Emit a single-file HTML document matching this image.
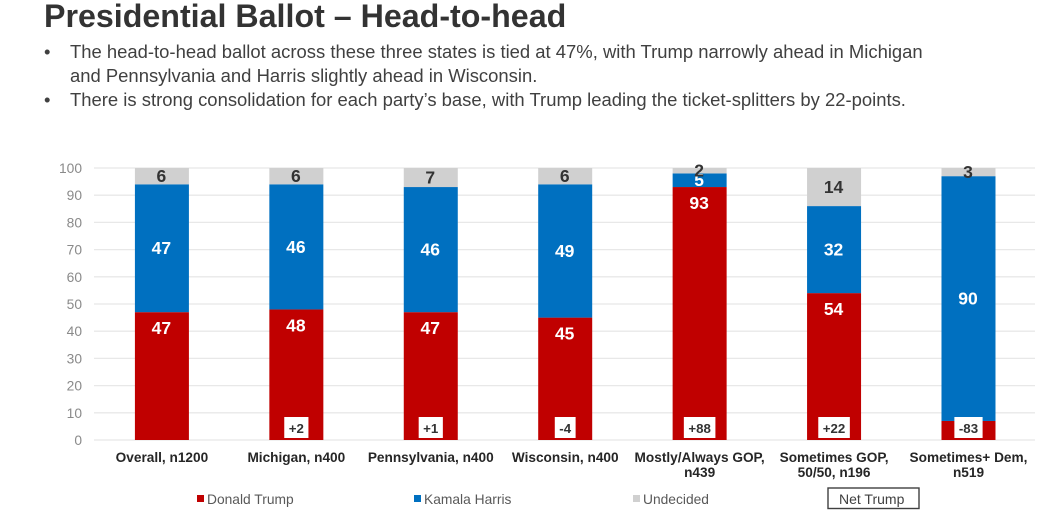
<!DOCTYPE html>
<html>
<head>
<meta charset="utf-8">
<style>
html,body{margin:0;padding:0;background:#fff;}
body{width:1051px;height:520px;overflow:hidden;position:relative;font-family:"Liberation Sans",sans-serif;}
svg{position:absolute;left:0;top:0;filter:blur(0.35px);}
text{font-family:"Liberation Sans",sans-serif;}
</style>
</head>
<body>
<svg id="slide" width="1051" height="520" viewBox="0 0 1051 520" xmlns="http://www.w3.org/2000/svg">
  <text x="44" y="27" font-size="32.2" font-weight="700" fill="#333333">Presidential Ballot – Head-to-head</text>
  <g font-size="18.44" fill="#404040">
    <text x="44" y="58">•</text>
    <text x="70" y="58">The head-to-head ballot across these three states is tied at 47%, with Trump narrowly ahead in Michigan</text>
    <text x="70" y="82">and Pennsylvania and Harris slightly ahead in Wisconsin.</text>
    <text x="44" y="106">•</text>
    <text x="70" y="106">There is strong consolidation for each party’s base, with Trump leading the ticket-splitters by 22-points.</text>
  </g>
  <g id="chart"></g>
  <g font-size="13.8" fill="#595959">
    <g>
      <rect x="197" y="495" width="7" height="7" fill="#c00000"></rect>
      <text x="207" y="504">Donald Trump</text>
    </g>
    <g>
      <rect x="414" y="495" width="7" height="7" fill="#0070c0"></rect>
      <text x="424" y="504">Kamala Harris</text>
    </g>
    <g>
      <rect x="633" y="495" width="7" height="7" fill="#d0d0d0"></rect>
      <text x="643" y="504">Undecided</text>
    </g>
    <g>
      <rect x="828" y="488" width="91" height="20.5" fill="#fff" stroke="#404040" stroke-width="1.4"></rect>
      <text x="839" y="504" font-size="14" fill="#404040">Net Trump</text>
    </g>
  </g>
</svg>
<script>
const categories = ["Overall, n1200", "Michigan, n400", "Pennsylvania, n400", "Wisconsin, n400", "Mostly/Always GOP,|n439", "Sometimes GOP,|50/50, n196", "Sometimes+ Dem,|n519"];
const trumpValues = [47, 48, 47, 45, 93, 54, 7];
const harrisValues = [47, 46, 46, 49, 5, 32, 90];
const undecidedValues = [6, 6, 7, 6, 2, 14, 3];
const trumpLabels = ["47", "48", "47", "45", "93", "54", ""];
const harrisLabels = ["47", "46", "46", "49", "5", "32", "90"];
const undecidedLabels = ["6", "6", "7", "6", "2", "14", "3"];
const netLabels = ["", "+2", "+1", "-4", "+88", "+22", "-83"];
const yTicks = [0, 10, 20, 30, 40, 50, 60, 70, 80, 90, 100];

const NS = "http://www.w3.org/2000/svg";
const chart = document.getElementById("chart");
const plotLeft = 94, plotRight = 1035, plotTop = 168, plotBottom = 440, yMax = 100;
const barWidth = 54;
const yScale = v => plotBottom - (v / yMax) * (plotBottom - plotTop);
const xScale = i => plotLeft + 0.7 + (i + 0.5) * ((plotRight - plotLeft) / categories.length);

function make(tag, attrs, text) {
  const el = document.createElementNS(NS, tag);
  for (const k in attrs) el.setAttribute(k, attrs[k]);
  if (text !== undefined) el.textContent = text;
  chart.appendChild(el);
  return el;
}

yTicks.forEach(t => {
  const line = make("line", {x1: plotLeft, x2: plotRight, y1: yScale(t), y2: yScale(t), stroke: "#e8e8e8", "stroke-width": 1.3});
  
  
  const label = make("text", {x: 82, y: yScale(t) + 5, "text-anchor": "end", "font-size": 13.8, fill: "#8a8a8a"}, String(t));
  
  
});

const seriesList = [
  {values: trumpValues, labels: trumpLabels, color: "#c00000", text: "#ffffff", name: "bar-trump", labelName: "value-label-trump", insideEnd: true},
  {values: harrisValues, labels: harrisLabels, color: "#0070c0", text: "#ffffff", name: "bar-harris", labelName: "value-label-harris", insideEnd: false},
  {values: undecidedValues, labels: undecidedLabels, color: "#d0d0d0", text: "#333333", name: "bar-undecided", labelName: "value-label-undecided", insideEnd: false}
];

categories.forEach((cat, i) => {
  const cx = xScale(i);
  let base = 0;
  seriesList.forEach(s => {
    const v = s.values[i];
    const top = yScale(base + v), bottom = yScale(base);
    const bar = make("rect", {x: cx - barWidth / 2, y: top, width: barWidth, height: bottom - top, fill: s.color});
    
    
    base += v;
  });
  base = 0;
  seriesList.forEach(s => {
    const v = s.values[i];
    const mid = s.insideEnd ? yScale(base + v) + 16 : yScale(base + v / 2);
    base += v;
    if (!s.labels[i]) return;
    const lab = make("text", {x: cx - 0.5, y: mid + 6, "text-anchor": "middle", "font-size": 17.5, "font-weight": 700, fill: s.text}, s.labels[i]);
    
    
  });
  if (netLabels[i]) {
    const box = make("rect", {x: cx, y: 417, width: 0, height: 21, fill: "#ffffff"});
    
    
    const net = make("text", {x: cx, y: 433, "text-anchor": "middle", "font-size": 13.3, "font-weight": 700, fill: "#333333"}, netLabels[i]);
    
    
    const w = net.getComputedTextLength() + 9;
    box.setAttribute("x", cx - w / 2);
    box.setAttribute("width", w);
  }
  cat.split("|").forEach((line, j) => {
    const t = make("text", {x: cx, y: 462 + j * 15, "text-anchor": "middle", "font-size": 13.65, "font-weight": 700, fill: "#262626"}, line);
    
    
  });
});
</script>
</body>
</html>
